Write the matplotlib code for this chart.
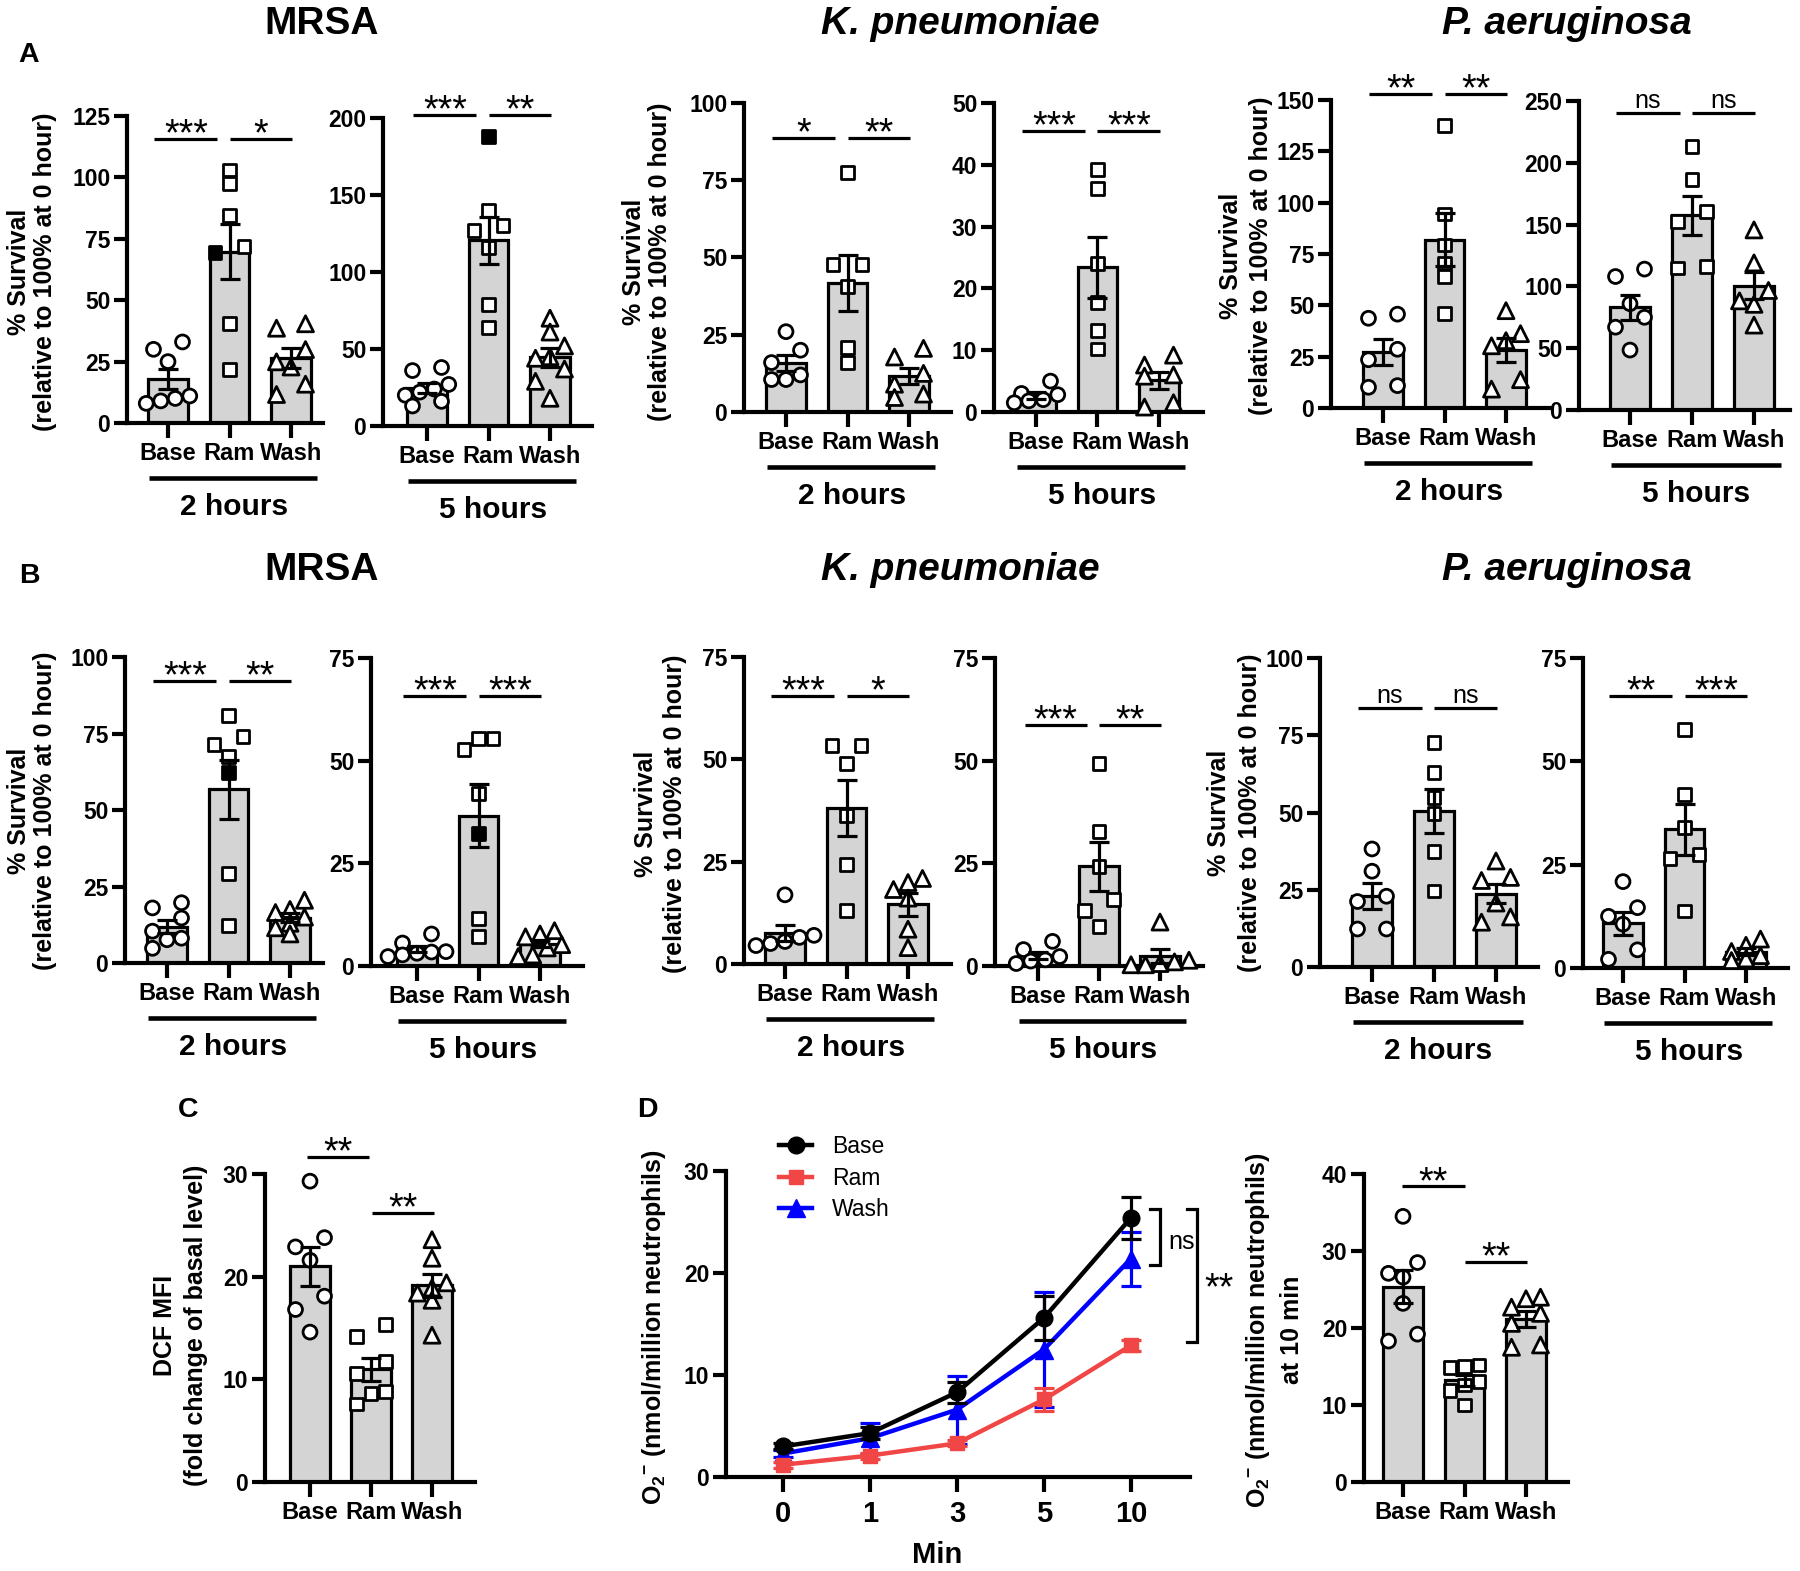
import numpy as np
import matplotlib
matplotlib.use("Agg")
import matplotlib.pyplot as plt
from matplotlib.transforms import blended_transform_factory

plt.rcParams['font.family'] = ['Liberation Sans', 'DejaVu Sans']
plt.rcParams['mathtext.fontset'] = 'custom'
plt.rcParams['mathtext.rm'] = 'Liberation Sans:bold'
plt.rcParams['mathtext.it'] = 'Liberation Sans:bold'
plt.rcParams['mathtext.bf'] = 'Liberation Sans:bold'
plt.rcParams['mathtext.sf'] = 'Liberation Sans:bold'

# ======================= DATA =======================
groups = ["Base", "Ram", "Wash"]
time_labels = ["2 hours", "5 hours"]

# ---- Panel A : % survival (relative to 100% at 0 hour) ----
a_mrsa_2h_base = [33, 30, 25, 11, 10, 9, 8]
a_mrsa_2h_ram = [103, 97.5, 84.5, 71.9, 69.3, 40.4, 21.7]
a_mrsa_2h_wash = [40.4, 38.6, 29.9, 24.9, 22.8, 15.8, 11.6]
a_mrsa_5h_base = [38, 36, 27, 24, 22, 20, 16, 13]
a_mrsa_5h_ram = [188, 140, 130, 127, 116, 79, 64]
a_mrsa_5h_wash = [70, 61, 52, 45, 44, 37, 29, 18]
a_kp_2h_base = [26, 20, 16, 12, 10.5, 10.5]
a_kp_2h_ram = [77.6, 47.8, 47.8, 40.5, 20.9, 15.9]
a_kp_2h_wash = [20.6, 17.8, 12.5, 9, 5.8, 4.7]
a_kp_5h_base = [5, 3, 2.8, 2, 1.8, 1.5]
a_kp_5h_ram = [39.2, 36.2, 24.1, 17.7, 13.2, 10.2]
a_kp_5h_wash = [9.2, 7.6, 6.0, 5.8, 1.5, 0.8]
a_pa_2h_base = [45.7, 43.7, 28.6, 23.5, 10.9, 10.1]
a_pa_2h_ram = [137.5, 94.5, 79.4, 70.6, 63.9, 46.2]
a_pa_2h_wash = [47.4, 36.2, 32.8, 30.3, 13.8, 9.2]
a_pa_5h_base = [114, 108, 86, 75, 67, 48.5]
a_pa_5h_ram = [213, 186.7, 160.6, 152.7, 116.3, 114.9]
a_pa_5h_wash = [145.7, 119, 96.7, 88.3, 85.5, 68.7]

# ---- Panel B ----
b_mrsa_2h_base = [19.7, 18, 14.7, 10.4, 8.1, 7.6, 4.8]
b_mrsa_2h_ram = [80.8, 74, 71.3, 67.5, 62.2, 29.1, 12.4]
b_mrsa_2h_wash = [20.5, 17.5, 16.5, 15, 13, 11.5, 9.5]
b_mrsa_5h_base = [7.8, 5.6, 3.5, 3.4, 3.1, 2.7, 2.3]
b_mrsa_5h_ram = [55.3, 55.3, 52.8, 41.9, 32.2, 11.5, 7.1]
b_mrsa_5h_wash = [8.6, 7.8, 7.1, 5.2, 4.4, 2.7, 2.3]
b_kp_2h_base = [16.9, 7, 6.5, 5.5, 5, 4.5]
b_kp_2h_ram = [53.3, 53.3, 49, 36.3, 24.3, 13.1]
b_kp_2h_wash = [20.9, 19.9, 18.2, 16.1, 8.5, 4]
b_kp_5h_base = [6, 4, 2.3, 1.5, 1.2, 0.6]
b_kp_5h_ram = [49.2, 32.8, 24.3, 16.2, 13.6, 9.6]
b_kp_5h_wash = [10.7, 1.4, 1, 0.6, 0.3, 0.3]
b_pa_2h_base = [38.2, 31, 22.9, 21.2, 12.3, 12.3]
b_pa_2h_ram = [72.6, 62.9, 55, 49.7, 37.4, 24.6]
b_pa_2h_wash = [34.3, 29, 28, 20.7, 16.2, 14.5]
b_pa_5h_base = [20.9, 14.6, 12.5, 10.6, 4.4, 2.1]
b_pa_5h_ram = [57.8, 41.9, 34.1, 27.4, 26.4, 13.8]
b_pa_5h_wash = [7, 5.5, 4, 3, 2.2, 1.8]

# filled (black) symbol: (group index, point index)
a_mrsa_2h_filled = (1, 4)
a_mrsa_5h_filled = (1, 0)
b_mrsa_2h_filled = (1, 4)
b_mrsa_5h_filled = (1, 4)

# significance labels: (Base vs Ram, Ram vs Wash, height of both lines)
a_sig = [("***", "*", 115.6), ("***", "**", 202), ("*", "**", 88.8),
         ("***", "***", 45.5), ("**", "**", 153), ("ns", "ns", 240)]
b_sig = [("***", "**", 92.1), ("***", "***", 65.7), ("***", "*", 65.5),
         ("***", "**", 58.7), ("ns", "ns", 83.8), ("**", "***", 65.8)]

# ---- Panel C : DCF MFI ----
c_base = [29.3, 23.8, 22.9, 21.6, 18.1, 16.8, 14.6]
c_ram = [15.3, 14.2, 11.7, 10.6, 8.8, 8.6, 7.6]
c_wash = [23.6, 21.8, 19.4, 18.9, 18.4, 17.7, 14.3]
c_sig_labels = ["**", "**"]
c_sig_heights = [31.7, 26.2]

# ---- Panel D : superoxide kinetics ----
d_minutes = ["0", "1", "3", "5", "10"]
d_base_mean = [3.0, 4.3, 8.3, 15.6, 25.4]
d_base_sem = [0.3, 0.6, 1.05, 2.15, 2.1]
d_ram_mean = [1.2, 2.1, 3.3, 7.6, 12.9]
d_ram_sem = [0.3, 0.3, 0.3, 1.15, 0.5]
d_wash_mean = [2.3, 3.8, 6.6, 12.5, 21.4]
d_wash_sem = [0.3, 1.5, 3.35, 5.6, 2.65]

# ---- Panel D (right) : superoxide at 10 min ----
e_base = [34.5, 28.5, 27.1, 26.6, 23.2, 19.2, 18.3]
e_ram = [15.2, 15, 14.9, 13, 12.6, 11.9, 10]
e_wash = [24, 23.8, 22.7, 21.9, 20.6, 17.8, 17.5]
e_sig_labels = ["**", "**"]
e_sig_heights = [38.4, 28.6]

# ======================= LAYOUT / STYLE =======================
W, H, DPI = 1800, 1571, 100
fig = plt.figure(figsize=(W / DPI, H / DPI), dpi=DPI)
fig.patch.set_facecolor('white')

SPINE_LW = 3.0
BAR_LW = 2.3
ERR_LW = 2.3
MK_LW = 2.0
BAR_W = 0.65
BAR_FILL = '#d4d4d4'
YT_FS = 16.5
XT_FS = 17
TIME_FS = 21.5
YL_FS = 18
AST_FS = 27
NS_FS = 18
RED = '#f04646'
BLUE = '#0000ff'
PX = 100 / 72.0  # px per point


def fy(y):
    return 1 - y / H


def make_axes(L, R, y0, ytop):
    return fig.add_axes([L / W, fy(y0), (R - L) / W, (y0 - ytop) / H])


def style_axes(ax, ymax, ystep):
    for s in ['top', 'right']:
        ax.spines[s].set_visible(False)
    for s in ['left', 'bottom']:
        ax.spines[s].set_linewidth(SPINE_LW)
        ax.spines[s].set_capstyle('projecting')
    ax.set_ylim(0, ymax)
    ticks = np.arange(0, ymax + 1e-9, ystep)
    ax.set_yticks(ticks)
    ax.set_yticklabels([f"{int(t)}" for t in ticks], fontsize=YT_FS, fontweight='bold')
    ax.tick_params(axis='y', length=9.5, width=SPINE_LW, pad=2.5)
    ax.set_facecolor('none')


def swarm_offsets(vals, pyu, sp, d=13.5, step=14.5):
    vals = np.asarray(vals, float)
    order = np.argsort(-vals, kind='stable')
    offs = np.zeros(len(vals))
    rows = []
    for i in order:
        if rows and abs(vals[rows[-1][0]] - vals[i]) * pyu < d:
            rows[-1].append(i)
        else:
            rows.append([i])
    for row in rows:
        k = len(row)
        row_sorted = sorted(row, key=lambda j: vals[j])
        spacing = 2 * step if k == 2 else step
        for n, j in enumerate(row_sorted):
            offs[j] = (n - (k - 1) / 2) * spacing / sp
    return offs


MARKERS = [('o', 10.0), ('s', 9.3), ('^', 11.5)]


def ast_offset(fs, center_px):
    # baseline offset (points) so that asterisk glyph centre sits center_px above the anchor
    return (center_px - 0.575 * fs * PX) / PX


def ns_offset(fs, center_px):
    return (center_px - 0.26 * fs * PX) / PX


def sig_text(ax, x, v, txt, ha='center'):
    if txt == 'ns':
        ax.annotate(txt, xy=(x, v), xytext=(0, ns_offset(NS_FS, 12.0)),
                    textcoords='offset points', ha=ha, va='baseline', fontsize=NS_FS,
                    fontweight='normal', annotation_clip=False)
    else:
        ax.annotate(txt, xy=(x, v), xytext=(0, ast_offset(AST_FS, 15.0)),
                    textcoords='offset points', ha=ha, va='baseline', fontsize=AST_FS,
                    fontweight='normal', annotation_clip=False)


def bar_panel(spec, data, filled=None, sig_labels=None, sig_heights=None,
              time_label=None, sig_span=((-0.22, 0.8), (1.0, 2.02))):
    L, R, f, l, y0, yt, ymax, ystep = spec
    sp = (l - f) / 2
    ax = make_axes(L, R, y0, yt)
    ax.set_xlim(-(f - L) / sp, 2 + (R - l) / sp)
    style_axes(ax, ymax, ystep)
    x = np.arange(3)
    means = [np.mean(d) for d in data]
    sems = [np.std(d, ddof=1) / np.sqrt(len(d)) for d in data]
    ax.bar(x, means, width=BAR_W, color=BAR_FILL, edgecolor='black',
           linewidth=BAR_LW, zorder=1)
    pyu = (y0 - yt) / ymax
    for i, d in enumerate(data):
        offs = swarm_offsets(d, pyu, sp)
        m, ms = MARKERS[i]
        fcs = ['black' if (filled is not None and filled == (i, j)) else 'white'
               for j in range(len(d))]
        ax.scatter(i + offs, d, marker=m, s=ms ** 2, facecolors=fcs,
                   edgecolors='black', linewidths=MK_LW, zorder=3, clip_on=False)
    ax.errorbar(x, means, yerr=sems, fmt='none', ecolor='black', elinewidth=ERR_LW,
                capsize=7, capthick=ERR_LW, zorder=4, clip_on=False)
    ax.set_xticks(x)
    ax.set_xticklabels(groups, fontsize=XT_FS, fontweight='bold')
    ax.tick_params(axis='x', length=10.8, width=SPINE_LW, pad=3)
    if sig_labels is not None:
        for (a, b), t, v in zip(sig_span, sig_labels, sig_heights):
            ax.plot([a, b], [v, v], color='black', lw=ERR_LW, clip_on=False,
                    solid_capstyle='butt')
            sig_text(ax, (a + b) / 2, v, t)
    if time_label is not None:
        tr = blended_transform_factory(ax.transData, fig.transFigure)
        ax.plot([-0.31, 2.43], [fy(y0 + 55)] * 2, transform=tr, color='black',
                lw=3.3, clip_on=False, solid_capstyle='butt')
        ax.text(1.07, fy(y0 + 84), time_label, transform=tr, ha='center',
                va='center', fontsize=TIME_FS, fontweight='bold')
    return ax


# panel specs: (axis left px, axis right px, first bar px, last bar px, y0 px, ytop px, ymax, step)
specA = [(127, 323, 168, 291, 423, 116, 125, 25),
         (383, 592, 427, 550, 426, 118, 200, 50),
         (744, 951, 786, 909, 412, 103, 100, 25),
         (994, 1203, 1036, 1159, 412, 103, 50, 10),
         (1331, 1550, 1383, 1506, 408, 100, 150, 25),
         (1579, 1790, 1630, 1754, 410, 101, 250, 50)]
specB = [(125, 323, 167, 290, 963, 657, 100, 25),
         (371, 583, 417, 540, 966, 658, 75, 25),
         (744, 951, 785, 908, 964, 657, 75, 25),
         (995, 1203, 1038, 1160, 966, 658, 75, 25),
         (1320, 1538, 1372, 1496, 967, 658, 100, 25),
         (1583, 1788, 1623, 1746, 968, 658, 75, 25)]

dataA = [[a_mrsa_2h_base, a_mrsa_2h_ram, a_mrsa_2h_wash],
         [a_mrsa_5h_base, a_mrsa_5h_ram, a_mrsa_5h_wash],
         [a_kp_2h_base, a_kp_2h_ram, a_kp_2h_wash],
         [a_kp_5h_base, a_kp_5h_ram, a_kp_5h_wash],
         [a_pa_2h_base, a_pa_2h_ram, a_pa_2h_wash],
         [a_pa_5h_base, a_pa_5h_ram, a_pa_5h_wash]]
dataB = [[b_mrsa_2h_base, b_mrsa_2h_ram, b_mrsa_2h_wash],
         [b_mrsa_5h_base, b_mrsa_5h_ram, b_mrsa_5h_wash],
         [b_kp_2h_base, b_kp_2h_ram, b_kp_2h_wash],
         [b_kp_5h_base, b_kp_5h_ram, b_kp_5h_wash],
         [b_pa_2h_base, b_pa_2h_ram, b_pa_2h_wash],
         [b_pa_5h_base, b_pa_5h_ram, b_pa_5h_wash]]
filledA = [a_mrsa_2h_filled, a_mrsa_5h_filled, None, None, None, None]
filledB = [b_mrsa_2h_filled, b_mrsa_5h_filled, None, None, None, None]

for k in range(6):
    bar_panel(specA[k], dataA[k], filled=filledA[k], sig_labels=a_sig[k][:2],
              sig_heights=[a_sig[k][2]] * 2, time_label=time_labels[k % 2])
    bar_panel(specB[k], dataB[k], filled=filledB[k], sig_labels=b_sig[k][:2],
              sig_heights=[b_sig[k][2]] * 2, time_label=time_labels[k % 2])

# C
bar_panel((265, 475, 310, 432, 1482, 1174, 30, 10), [c_base, c_ram, c_wash],
          sig_labels=c_sig_labels, sig_heights=c_sig_heights,
          sig_span=((-0.05, 0.97), (1.02, 2.04)))
# D right (10 min)
bar_panel((1364, 1568, 1403, 1526, 1482, 1174, 40, 10), [e_base, e_ram, e_wash],
          sig_labels=e_sig_labels, sig_heights=e_sig_heights,
          sig_span=((-0.02, 1.0), (1.0, 2.02)))

# D line chart
axd = make_axes(726, 1190, 1477, 1171)
axd.set_xlim(-0.655, 4.68)
style_axes(axd, 30, 10)
xd = np.arange(len(d_minutes))
series = [(d_wash_mean, d_wash_sem, BLUE, '^', 13.5, 'Wash', 3),
          (d_ram_mean, d_ram_sem, RED, 's', 10.5, 'Ram', 4),
          (d_base_mean, d_base_sem, 'black', 'o', 12, 'Base', 5)]
handles = {}
for mean, sem, col, mk, ms, lab, z in series:
    axd.errorbar(xd, mean, yerr=sem, fmt='none', ecolor=col, elinewidth=ERR_LW,
                 capsize=7, capthick=ERR_LW, zorder=z, clip_on=False)
    ln, = axd.plot(xd, mean, color=col, lw=3.2, marker=mk, ms=ms,
                   markeredgecolor=col, zorder=z + 0.5, clip_on=False, label=lab)
    handles[lab] = ln
axd.set_xticks(xd)
axd.set_xticklabels(d_minutes, fontsize=21, fontweight='bold')
axd.tick_params(axis='x', length=10.8, width=SPINE_LW, pad=6)
leg = axd.legend([handles['Base'], handles['Ram'], handles['Wash']], ['Base', 'Ram', 'Wash'],
                 loc='upper left', bbox_to_anchor=(779 / W, fy(1135)),
                 bbox_transform=fig.transFigure, frameon=False, fontsize=16.5,
                 handlelength=1.45, handletextpad=0.85, labelspacing=0.38,
                 borderpad=0, borderaxespad=0)
for t in leg.get_texts():
    t.set_fontweight('normal')
# brackets
for xb, ytop_, ybot, txt, ytxt in ((4.33, 26.3, 20.8, 'ns', 23.0), (4.76, 26.3, 13.2, '**', 19.5)):
    axd.plot([xb - 0.11, xb, xb, xb - 0.11], [ytop_, ytop_, ybot, ybot], color='black',
             lw=ERR_LW, clip_on=False, solid_joinstyle='miter')
    if txt == 'ns':
        axd.annotate(txt, xy=(xb + 0.1, ytxt), xytext=(0, ns_offset(NS_FS, 0)),
                     textcoords='offset points', ha='left', va='baseline',
                     fontsize=NS_FS, fontweight='normal', annotation_clip=False)
    else:
        axd.annotate(txt, xy=(xb + 0.08, ytxt), xytext=(0, ast_offset(AST_FS, 0)),
                     textcoords='offset points', ha='left', va='baseline',
                     fontsize=AST_FS, fontweight='normal', annotation_clip=False)


# ======================= TEXT =======================
def ftext(x, y, s, **kw):
    fig.text(x / W, fy(y), s, **kw)


for yb in (34, 580):
    ftext(322, yb, "MRSA", ha='center', va='baseline', fontsize=28, fontweight='bold')
    ftext(960, yb, "K. pneumoniae", ha='center', va='baseline', fontsize=28,
          fontweight='bold', style='italic')
    ftext(1567, yb, "P. aeruginosa", ha='center', va='baseline', fontsize=28,
          fontweight='bold', style='italic')

for lab, x, y in (("A", 29, 55), ("B", 29, 576), ("C", 188, 1110), ("D", 647, 1110)):
    ftext(x, y, lab, ha='center', va='center', fontsize=20.5, fontweight='bold')

surv = "% Survival\n(relative to 100% at 0 hour)"
for x, y, ls in ((32, 272, 1.15), (647, 262, 1.15), (1246, 256, 1.3),
                 (32, 811, 1.15), (660.5, 814, 1.3), (1234.5, 813, 1.35)):
    ftext(x, y, surv, rotation=90, ha='center', va='center', fontsize=YL_FS,
          fontweight='bold', linespacing=ls, multialignment='center')
ftext(180.5, 1325, "DCF MFI\n(fold change of basal level)", rotation=90, ha='center',
      va='center', fontsize=YL_FS, fontweight='bold', linespacing=1.35,
      multialignment='center')
ftext(654, 1327, r"O$_2$$^{-}$ (nmol/million neutrophils)", rotation=90, ha='center',
      va='center', fontsize=YL_FS, fontweight='bold')
ftext(1274, 1330, "O$_2$$^{-}$ (nmol/million neutrophils)\nat 10 min", rotation=90,
      ha='center', va='center', fontsize=YL_FS, fontweight='bold', linespacing=1.4,
      multialignment='center')
ftext(937, 1555, "Min", ha='center', va='center', fontsize=21, fontweight='bold')

fig.savefig("out.png", dpi=DPI, facecolor='white')
